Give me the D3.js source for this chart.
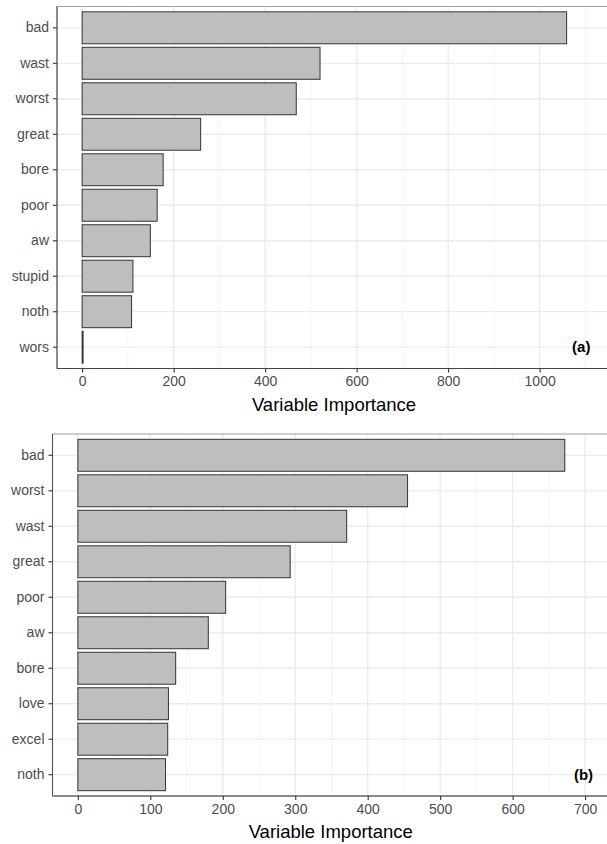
<!DOCTYPE html>
<html>
<head>
<meta charset="utf-8">
<script src="https://cdn.jsdelivr.net/npm/d3@7"></script>
<style>
  html, body { margin: 0; padding: 0; background: #fff; }
  svg { display: block; }
</style>
</head>
<body>
<script>
// ---- data ----
const catsA  = ["bad", "wast", "worst", "great", "bore", "poor", "aw", "stupid", "noth", "wors"];
const valsA  = [1059, 520, 468, 259, 177, 164, 149, 111, 108, 2];
const ticksA = [0, 200, 400, 600, 800, 1000];
const minorA = [100, 300, 500, 700, 900, 1100];
const tagA   = "(a)";

const catsB  = ["bad", "worst", "wast", "great", "poor", "aw", "bore", "love", "excel", "noth"];
const valsB  = [672, 455, 371, 293, 204, 180, 135, 125, 124, 121];
const ticksB = [0, 100, 200, 300, 400, 500, 600, 700];
const minorB = [50, 150, 250, 350, 450, 550, 650];
const tagB   = "(b)";

const xTitle = "Variable Importance";

const W = 607, H = 844;
const FONT = "Liberation Sans, Arial, sans-serif";
const svg = d3.select("body").append("svg").attr("width", W).attr("height", H);

function panel(cfg) {
  const { cats, vals, ticks, minor, tag, xlim, left, right, top, bottom, tagX } = cfg;
  const g = svg.append("g");
  const x = d3.scaleLinear().domain(xlim).range([left, right]);
  const y = d3.scaleBand().domain(cats).range([top, bottom]).paddingInner(0.1).paddingOuter(0.15);

  g.append("rect").attr("x", left).attr("y", top).attr("width", right - left).attr("height", bottom - top).attr("fill", "#fff");

  g.selectAll(".minor").data(minor).join("line")
    .attr("x1", d => x(d)).attr("x2", d => x(d)).attr("y1", top).attr("y2", bottom)
    .attr("stroke", "#F2F2F2").attr("stroke-width", 0.8);
  g.selectAll(".majx").data(ticks).join("line")
    .attr("x1", d => x(d)).attr("x2", d => x(d)).attr("y1", top).attr("y2", bottom)
    .attr("stroke", "#EBEBEB").attr("stroke-width", 1.3);
  g.selectAll(".majy").data(cats).join("line")
    .attr("x1", left).attr("x2", right)
    .attr("y1", d => y(d) + y.bandwidth() / 2).attr("y2", d => y(d) + y.bandwidth() / 2)
    .attr("stroke", "#EBEBEB").attr("stroke-width", 1.3);

  g.selectAll(".bar").data(cats).join("rect")
    .attr("x", x(0))
    .attr("y", d => y(d))
    .attr("width", (d, i) => Math.max(0, x(vals[i]) - x(0)))
    .attr("height", y.bandwidth())
    .attr("fill", "#BEBEBE")
    .attr("stroke", "#333333")
    .attr("stroke-width", 1);

  g.append("rect").attr("x", left).attr("y", top).attr("width", right - left).attr("height", bottom - top)
    .attr("fill", "none").attr("stroke", "#A0A0A0").attr("stroke-width", 1);
  g.append("line").attr("x1", left).attr("x2", left).attr("y1", top).attr("y2", bottom)
    .attr("stroke", "#555").attr("stroke-width", 1.1);
  g.append("line").attr("x1", left).attr("x2", right).attr("y1", bottom).attr("y2", bottom)
    .attr("stroke", "#444").attr("stroke-width", 1.2);

  const xa = g.append("g").attr("transform", `translate(0,${bottom})`)
    .call(d3.axisBottom(x).tickValues(ticks).tickFormat(d3.format("d")).tickSize(4).tickPadding(4));
  xa.select(".domain").remove();
  xa.selectAll(".tick line").attr("stroke", "#333").attr("stroke-width", 1.1);
  xa.selectAll(".tick text").attr("fill", "#4D4D4D").attr("font-family", FONT).attr("font-size", "14px");

  const ya = g.append("g").attr("transform", `translate(${left},0)`)
    .call(d3.axisLeft(y).tickSize(4).tickPadding(4));
  ya.select(".domain").remove();
  ya.selectAll(".tick line").attr("stroke", "#333").attr("stroke-width", 1.1);
  ya.selectAll(".tick text").attr("fill", "#4D4D4D").attr("font-family", FONT).attr("font-size", "14px");

  g.append("text").attr("x", (left + right) / 2).attr("y", bottom + 42)
    .attr("text-anchor", "middle").attr("font-family", FONT)
    .attr("font-size", "18.5px").attr("fill", "#000").text(xTitle);

  const last = cats[cats.length - 1];
  g.append("text").attr("x", x(tagX)).attr("y", y(last) + y.bandwidth() / 2 + 5)
    .attr("text-anchor", "end").attr("font-family", FONT)
    .attr("font-weight", "bold").attr("font-size", "15px").attr("fill", "#000").text(tag);
}

panel({ cats: catsA, vals: valsA, ticks: ticksA, minor: minorA, tag: tagA,
  xlim: [-55, 1156], left: 57, right: 611, top: 6.5, bottom: 368.5, tagX: 1111 });
panel({ cats: catsB, vals: valsB, ticks: ticksB, minor: minorB, tag: tagB,
  xlim: [-35, 733], left: 52.5, right: 609, top: 434, bottom: 796, tagX: 711 });
</script>
</body>
</html>
